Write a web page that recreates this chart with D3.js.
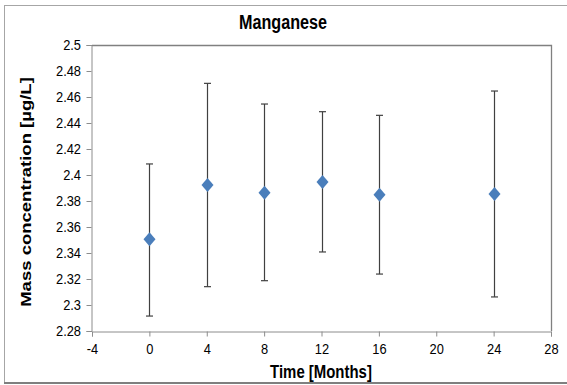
<!DOCTYPE html>
<html>
<head>
<meta charset="utf-8">
<script src="https://cdn.jsdelivr.net/npm/d3@7"></script>
<style>
  html, body { margin: 0; padding: 0; background: #fff; }
  svg { display: block; font-family: Arial, "Liberation Sans", sans-serif; }
  /* narrow the glyphs horizontally */
  .narrow-c { transform-box: fill-box; transform-origin: center; transform: scaleX(0.83); }
  .narrow-r { transform-box: fill-box; transform-origin: right center; transform: scaleX(0.83); }
</style>
</head>
<body>
<svg id="chart" width="567" height="385"></svg>
<script>
// Manganese mass concentration over storage time, mean with error range
const months = [0, 4, 8, 12, 16, 24];
const meanConc = [2.3505, 2.3923, 2.3864, 2.3946, 2.3849, 2.3854];
const upperConc = [2.4085, 2.4705, 2.4546, 2.4487, 2.4459, 2.4646];
const lowerConc = [2.2915, 2.3141, 2.3187, 2.3408, 2.3238, 2.3062];
const xTicks = [-4, 0, 4, 8, 12, 16, 20, 24, 28];
const yTicks = [2.28, 2.3, 2.32, 2.34, 2.36, 2.38, 2.4, 2.42, 2.44, 2.46, 2.48, 2.5];

const svg = d3.select("#chart");
const plotLeft = 92, plotRight = 551, plotTop = 45, plotBottom = 331;

// outer frame
svg.append("line").attr("x1", 4.5).attr("x2", 567).attr("y1", 5.5).attr("y2", 5.5)
  .attr("stroke", "#a6a6a6").attr("stroke-width", 1);
svg.append("line").attr("x1", 4.5).attr("x2", 4.5).attr("y1", 5).attr("y2", 383)
  .attr("stroke", "#a6a6a6").attr("stroke-width", 1);
svg.append("line").attr("x1", 4).attr("x2", 567).attr("y1", 383).attr("y2", 383)
  .attr("stroke", "#7f7f7f").attr("stroke-width", 2);

const x = d3.scaleLinear().domain([-4, 28]).range([plotLeft, plotRight]);
const y = d3.scaleLinear().domain([2.28, 2.5]).range([plotBottom, plotTop]);

// plot area border (top / right)
svg.append("path")
  .attr("d", `M${plotLeft},${plotTop + 0.5}H${plotRight + 0.5}V${plotBottom}`)
  .attr("fill", "none").attr("stroke", "#808080").attr("stroke-width", 1.3);

// axes
const xAxis = svg.append("g").attr("transform", `translate(0,${plotBottom + 0.5})`)
  .call(d3.axisBottom(x).tickValues(xTicks).tickSize(5).tickPadding(7)
    .tickFormat(d => String(d)));
const yAxis = svg.append("g").attr("transform", `translate(${plotLeft - 0.5},0)`)
  .call(d3.axisLeft(y).tickValues(yTicks).tickSize(5).tickPadding(5.5)
    .tickFormat(d => String(+d.toFixed(2))));
[xAxis, yAxis].forEach(g => {
  g.select(".domain").attr("stroke", "#8c8c8c").attr("stroke-width", 1);
  g.selectAll(".tick line").attr("stroke", "#8c8c8c");
  g.selectAll("text").attr("fill", "#000").style("font-size", "15.5px")
    .style("font-family", "Arial, 'Liberation Sans', sans-serif");
});
xAxis.selectAll("text").attr("class", "narrow-c");
yAxis.selectAll("text").attr("class", "narrow-r");

// error bars
const data = months.map((m, i) => ({ m, mean: meanConc[i], hi: upperConc[i], lo: lowerConc[i] }));
const eb = svg.append("g").attr("stroke", "#404040").attr("stroke-width", 1.2);
data.forEach(d => {
  const cx = Math.round(x(d.m)) + 0.5;
  eb.append("line").attr("x1", cx).attr("x2", cx).attr("y1", y(d.hi)).attr("y2", y(d.lo));
  eb.append("line").attr("x1", cx - 3.5).attr("x2", cx + 3.5).attr("y1", y(d.hi)).attr("y2", y(d.hi));
  eb.append("line").attr("x1", cx - 3.5).attr("x2", cx + 3.5).attr("y1", y(d.lo)).attr("y2", y(d.lo));
});

// diamond markers
svg.append("g").selectAll("path").data(data).join("path")
  .attr("transform", d => `translate(${Math.round(x(d.m)) + 0.5},${y(d.mean)})`)
  .attr("d", "M0,-7L6,0L0,7L-6,0Z")
  .attr("fill", "#4a7ebb");

// titles
svg.append("text").attr("x", 283).attr("y", 29).attr("text-anchor", "middle")
  .attr("class", "narrow-c")
  .style("font-size", "19.5px").style("font-weight", "bold").text("Manganese");
svg.append("text").attr("x", 321).attr("y", 378).attr("text-anchor", "middle")
  .attr("class", "narrow-c")
  .style("font-size", "18px").style("font-weight", "bold").text("Time [Months]");
svg.append("text")
  .attr("transform", `translate(31,${(plotTop + plotBottom) / 2 + 4}) scale(0.83,1) rotate(-90)`)
  .attr("text-anchor", "middle")
  .style("font-size", "18.5px").style("font-weight", "bold").text("Mass concentration  [µg/L]");
</script>
</body>
</html>
